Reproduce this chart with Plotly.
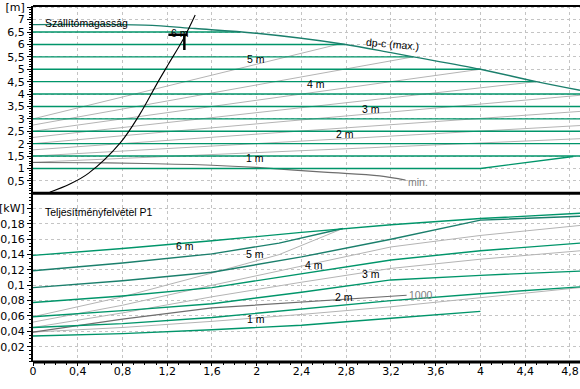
import numpy as np
import plotly.graph_objects as go

# ---------------- data ----------------
# top chart: head [m] vs flow [m3/h]
max_flow = [0, 1.0, 1.45, 2.0, 2.75, 3.2, 3.4, 4.0, 4.5, 4.89]
max_head = [6.8, 6.78, 6.64, 6.45, 6.03, 5.67, 5.5, 5.0, 4.5, 4.15]

cp_levels = [1.5, 2.0, 2.5, 3.0, 3.5, 4.0, 4.5, 5.0, 5.5, 6.0, 6.5]
cp1_flow = [0, 4.0, 4.83]
cp1_head = [1.0, 1.0, 1.48]

pp_start_head = [3.0, 2.75, 2.5, 2.25, 2.0, 1.75, 1.5, 1.25]
pp_end_flow = [2.75, 3.4, 4.0, 4.5, 4.89, 4.89, 4.89, 4.89]
pp_end_head = [6.03, 5.5, 5.0, 4.5, 3.95, 3.3, 2.73, 2.2]

min_flow = [0, 0.5, 1.0, 1.6, 2.0, 2.6, 3.1, 3.33]
min_head = [1.24, 1.23, 1.2, 1.13, 1.04, 0.85, 0.7, 0.53]

sys_flow = [0.15, 0.33, 0.495, 0.78, 0.957, 1.106, 1.21, 1.344, 1.45]
sys_head = [0.04, 0.37, 0.8, 2.03, 3.2, 4.4, 5.2, 6.22, 7.19]

cursor_flow = [1.21, 1.38, None, 1.353, 1.353]
cursor_head = [6.39, 6.39, None, 6.39, 5.78]

# bottom chart: power P1 [kW] vs flow
pw_flow = [0, 0.8, 1.6, 2.4, 3.2, 4.0, 4.89]
pw_max = [0.139, 0.148, 0.158, 0.169, 0.179, 0.187, 0.194]
cp6_flow = [0, 0.8, 1.6, 2.2, 2.77]
cp6_pw = [0.119, 0.129, 0.141, 0.155, 0.174]
cp5_pw = [0.097, 0.106, 0.117, 0.137, 0.16, 0.185, 0.19]
cp4_pw = [0.0775, 0.086, 0.097, 0.115, 0.133, 0.145, 0.155]
cp3_pw = [0.059, 0.067, 0.076, 0.091, 0.107, 0.113, 0.1185]
cp2_pw = [0.045, 0.05, 0.058, 0.069, 0.08, 0.089, 0.098]
cp1_pflow = [0, 0.8, 1.6, 2.4, 3.2, 4.0]
cp1_pw = [0.034, 0.037, 0.042, 0.048, 0.057, 0.066]

pp6_flow = [0, 0.8, 1.6, 2.2, 2.77]
pp6_pw = [0.059, 0.085, 0.116, 0.14, 0.174]
pp5_pw = [0.052, 0.074, 0.1, 0.125, 0.15, 0.165, 0.178]
pp4_pw = [0.045, 0.064, 0.085, 0.104, 0.122, 0.134, 0.145]
pp3_pw = [0.039, 0.045, 0.053, 0.062, 0.072, 0.084, 0.097]

minp_flow = [0, 0.8, 1.6, 2.4, 3.0, 3.34]
minp_pw = [0.039, 0.056, 0.0705, 0.078, 0.084, 0.087]

# labels
top_labels = ["6 m", "5 m", "4 m", "3 m", "2 m", "1 m"]
top_label_flow = [1.315, 1.994, 2.53, 3.02, 2.79, 1.985]
top_label_head = [6.45, 5.41, 4.41, 3.41, 2.40, 1.41]
bot_labels = ["6 m", "5 m", "4 m", "3 m", "2 m", "1 m"]
bot_label_flow = [1.36, 1.985, 2.51, 3.02, 2.78, 1.994]
bot_label_pw = [0.1518, 0.1402, 0.1268, 0.1142, 0.0848, 0.0555]

x_ticks = [0, 0.4, 0.8, 1.2, 1.6, 2, 2.4, 2.8, 3.2, 3.6, 4, 4.4, 4.8]
top_ticks = [0.5, 1, 1.5, 2, 2.5, 3, 3.5, 4, 4.5, 5, 5.5, 6, 6.5, 7, 7.5]
top_ticktext = ["0,5", "1", "1,5", "2", "2,5", "3", "3,5", "4", "4,5", "5", "5,5", "6", "6,5", "7", "[m]"]
bot_ticks = [0.02, 0.04, 0.06, 0.08, 0.1, 0.12, 0.14, 0.16, 0.18, 0.2]
bot_ticktext = ["0,02", "0,04", "0,06", "0,08", "0,1", "0,12", "0,14", "0,16", "0,18", "[kW]"]

# ---------------- styles ----------------
GREEN = "#00956A"
MAXC = "#1B7F6C"
GREY = "#B4B4B4"
DGREY = "#6E6E6E"
X_MAX = 4.89

fig = go.Figure()


def add(x, y, color, width, axis, shape="linear"):
    xa, ya = ("x2", "y2") if axis == "top" else ("x", "y")
    fig.add_trace(go.Scatter(x=x, y=y, mode="lines", xaxis=xa, yaxis=ya,
                             line=dict(color=color, width=width, shape=shape),
                             hoverinfo="skip", showlegend=False))


# ---- top chart ----
for s, ef, eh in zip(pp_start_head, pp_end_flow, pp_end_head):
    add([0, ef], [s, eh], GREY, 1, "top")
add(min_flow, min_head, DGREY, 1.2, "top", "spline")
rev_h = max_head[::-1]
rev_f = max_flow[::-1]
for h in cp_levels:
    end = float(np.interp(h, rev_h, rev_f))
    add([0, end], [h, h], GREEN, 1.4, "top")
add(cp1_flow, cp1_head, GREEN, 1.4, "top")
add(max_flow, max_head, MAXC, 1.4, "top", "spline")
add(sys_flow, sys_head, "black", 1.1, "top", "spline")
add(cursor_flow, cursor_head, "black", 2.5, "top")

# ---- bottom chart ----
add(pp6_flow, pp6_pw, GREY, 1, "bot")
add(pw_flow, pp5_pw, GREY, 1, "bot")
add(pw_flow, pp4_pw, GREY, 1, "bot")
add(pw_flow, pp3_pw, GREY, 1, "bot")
add(minp_flow, minp_pw, DGREY, 1.2, "bot")
add(pw_flow, cp2_pw, GREEN, 1.4, "bot")
add(pw_flow, cp3_pw, GREEN, 1.4, "bot")
add(pw_flow, cp4_pw, GREEN, 1.4, "bot")
add(pw_flow, cp5_pw, MAXC, 1.4, "bot")
add(cp6_flow, cp6_pw, MAXC, 1.4, "bot")
add(cp1_pflow, cp1_pw, GREEN, 1.4, "bot")
add(pw_flow, pw_max, GREEN, 1.4, "bot")

LABEL_FONT = dict(family="Liberation Sans, Arial", size=10.5, color="black")
GREY_FONT = dict(family="Liberation Sans, Arial", size=10.5, color="#808080")
ann = []
for t, fx, fy in zip(top_labels, top_label_flow, top_label_head):
    ann.append(dict(x=fx, y=fy, xref="x2", yref="y2", text=t, showarrow=False, font=LABEL_FONT))
for t, fx, fy in zip(bot_labels, bot_label_flow, bot_label_pw):
    ann.append(dict(x=fx, y=fy, xref="x", yref="y", text=t, showarrow=False, font=LABEL_FONT))
ann.append(dict(x=3.218, y=6.02, xref="x2", yref="y2", text="dp-c (max.)", showarrow=False,
                font=LABEL_FONT, textangle=5))
ann.append(dict(x=3.33, y=0.46, xref="x2", yref="y2", text="min.", showarrow=False,
                xanchor="left", font=GREY_FONT))
ann.append(dict(x=3.34, y=0.0879, xref="x", yref="y", text="1000", showarrow=False,
                xanchor="left", font=GREY_FONT))
ann.append(dict(x=0.09, y=6.86, xref="x2", yref="y2", text="Szállítómagasság", showarrow=False,
                xanchor="left", font=LABEL_FONT))
ann.append(dict(x=0.09, y=0.195, xref="x", yref="y", text="Teljesítményfelvétel P1", showarrow=False,
                xanchor="left", font=LABEL_FONT))

SPLIT = 0.474
TICKFONT = dict(family="DejaVu Sans", size=11, color="black")
grid = dict(showgrid=True, gridcolor="#C4C4C4", gridwidth=1, griddash="3px,3px")

fig.update_layout(
    width=580, height=389,
    margin=dict(l=33, r=0, t=6, b=27),
    paper_bgcolor="white", plot_bgcolor="white",
    separators=", ",
    showlegend=False,
    annotations=ann,
    xaxis=dict(domain=[0, 1], anchor="y", range=[0, X_MAX], tickvals=x_ticks,
               ticks="outside", ticklen=3, tickcolor="black", tickfont=TICKFONT,
               ticklabelstandoff=-4,
               minor=dict(dtick=0.1, ticks="outside", ticklen=2, tickcolor="black", showgrid=False),
               zeroline=False, showline=False, **grid),
    yaxis=dict(domain=[0, SPLIT], anchor="x", range=[0, 0.22], tickvals=bot_ticks,
               ticktext=bot_ticktext, ticks="outside", ticklen=4, tickcolor="black",
               tickfont=TICKFONT,
               minor=dict(dtick=0.005, ticks="outside", ticklen=2, tickcolor="black", showgrid=False),
               zeroline=False, showline=True, linecolor="black", linewidth=2, **grid),
    xaxis2=dict(domain=[0, 1], anchor="y2", range=[0, X_MAX], tickvals=x_ticks,
                showticklabels=False, ticks="", zeroline=False, showline=False, **grid),
    yaxis2=dict(domain=[SPLIT, 1], anchor="x2", range=[0, 7.55], tickvals=top_ticks,
                ticktext=top_ticktext, ticks="outside", ticklen=4, tickcolor="black",
                tickfont=TICKFONT,
                minor=dict(dtick=0.1, ticks="outside", ticklen=2, tickcolor="black", showgrid=False),
                zeroline=False, showline=True, linecolor="black", linewidth=2, **grid),
    shapes=[
        dict(type="line", xref="paper", yref="paper", x0=0, x1=1, y0=1, y1=1,
             line=dict(color="black", width=2)),
        dict(type="line", xref="paper", yref="paper", x0=0, x1=1, y0=SPLIT, y1=SPLIT,
             line=dict(color="black", width=3)),
        dict(type="line", xref="paper", yref="paper", x0=0, x1=1, y0=0, y1=0,
             line=dict(color="black", width=3)),
    ],
)

fig.write_html("out.html", config={"displayModeBar": False},
               post_script="document.body.style.margin='0';document.body.style.overflow='hidden';")
